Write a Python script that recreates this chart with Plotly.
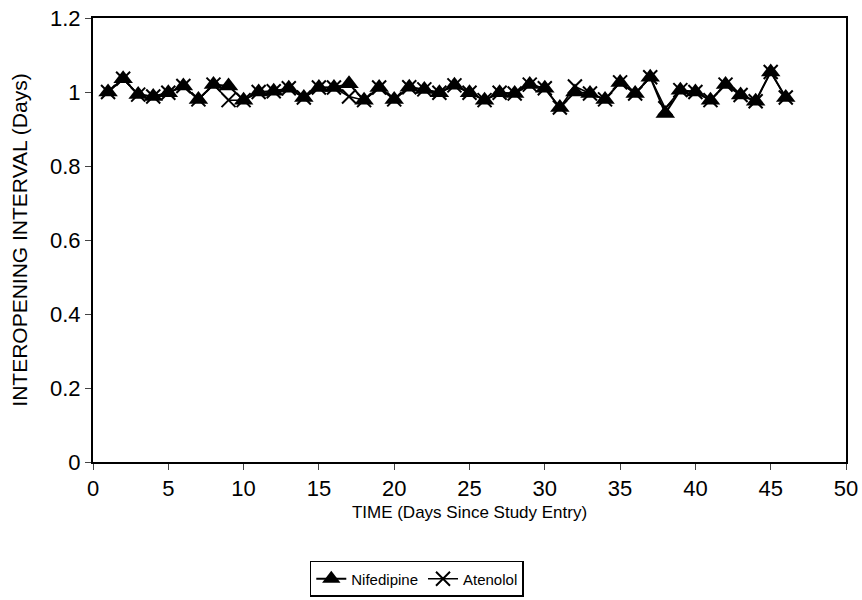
import plotly.graph_objects as go

days = list(range(1, 47))
nifedipine = [1.0, 1.036, 0.993, 0.988, 0.998, 1.016, 0.98, 1.02, 1.016, 0.978,
              1.0, 1.002, 1.01, 0.985, 1.012, 1.012, 1.022, 0.978, 1.012, 0.98,
              1.013, 1.007, 0.998, 1.018, 0.998, 0.978, 0.998, 0.996, 1.02, 1.01,
              0.958, 1.0, 0.996, 0.98, 1.026, 0.996, 1.04, 0.942, 1.005, 1.0,
              0.978, 1.02, 0.992, 0.975, 1.054, 0.985]
atenolol = [1.0, 1.036, 0.993, 0.988, 0.998, 1.016, 0.98, 1.02, 0.978, 0.978,
            1.0, 1.002, 1.01, 0.985, 1.012, 1.012, 0.988, 0.978, 1.012, 0.98,
            1.013, 1.007, 0.998, 1.018, 0.998, 0.978, 0.998, 0.996, 1.02, 1.01,
            0.958, 1.015, 0.996, 0.98, 1.026, 0.996, 1.04, 0.956, 1.005, 1.0,
            0.978, 1.02, 0.992, 0.975, 1.054, 0.985]
x_ticks = [0, 5, 10, 15, 20, 25, 30, 35, 40, 45, 50]
y_ticks = [0, 0.2, 0.4, 0.6, 0.8, 1, 1.2]

fig = go.Figure()
fig.add_trace(go.Scatter(
    x=days, y=nifedipine, name="Nifedipine", mode="lines+markers",
    line=dict(color="black", width=2),
    marker=dict(symbol="triangle-up", size=17, color="black"),
))
fig.add_trace(go.Scatter(
    x=days, y=atenolol, name="Atenolol", mode="lines+markers",
    line=dict(color="black", width=1.5),
    marker=dict(symbol="x-thin-open", size=14, color="black",
                line=dict(color="black", width=2)),
))

font = "Liberation Sans, Arial, sans-serif"
fig.update_layout(
    width=862, height=600,
    paper_bgcolor="white", plot_bgcolor="white",
    margin=dict(l=93, r=16, t=18, b=138, autoexpand=False),
    font=dict(family=font, color="black", size=16),
    showlegend=True,
    legend=dict(orientation="h", x=0.43, xanchor="center", y=-0.2635, yanchor="middle",
                bordercolor="black", borderwidth=1.5, font=dict(size=15),
                tracegroupgap=0),
    xaxis=dict(range=[0, 50], tickvals=x_ticks, ticks="outside", ticklen=6,
               showline=True, linecolor="black", linewidth=2, mirror=True,
               showgrid=False, zeroline=False, tickfont=dict(size=22),
               ticklabeloverflow="allow",
               title=dict(text="TIME (Days Since Study Entry)", standoff=6,
                          font=dict(size=17))),
    yaxis=dict(range=[0, 1.2], tickvals=y_ticks, ticks="outside", ticklen=6,
               showline=True, linecolor="black", linewidth=2, mirror=True,
               showgrid=False, zeroline=False, tickfont=dict(size=22),
               title=dict(text="INTEROPENING INTERVAL (Days)", standoff=17,
                          font=dict(size=21))),
)

fig.write_html(
    "out.html",
    config={"displayModeBar": False},
    post_script="document.body.style.margin='0';document.body.style.overflow='hidden';",
)
